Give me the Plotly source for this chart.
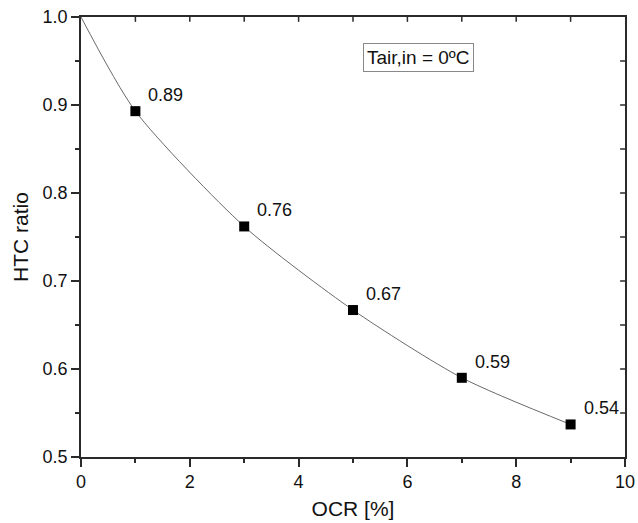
import plotly.graph_objects as go

# data
ocr_line = [0, 1, 3, 5, 7, 9]
htc_line = [1.0, 0.893, 0.762, 0.667, 0.590, 0.537]
ocr_pts = [1, 3, 5, 7, 9]
htc_pts = [0.893, 0.762, 0.667, 0.590, 0.537]
pt_labels = ["0.89", "0.76", "0.67", "0.59", "0.54"]
x_ticks = [0, 2, 4, 6, 8, 10]
y_ticks = [0.5, 0.6, 0.7, 0.8, 0.9, 1.0]
x_minor = [1, 3, 5, 7, 9]
y_minor = [0.55, 0.65, 0.75, 0.85, 0.95]

FONT = "Liberation Sans, Arial, sans-serif"
AX = "#2a2a2a"

fig = go.Figure()
fig.add_trace(go.Scatter(x=ocr_line, y=htc_line, mode="lines",
                         line=dict(color="#6a6a6a", width=1, shape="spline", smoothing=0.7),
                         hoverinfo="skip", showlegend=False))
fig.add_trace(go.Scatter(x=ocr_pts, y=htc_pts, mode="markers",
                         marker=dict(symbol="square", size=10, color="black"),
                         showlegend=False))

for x, y, t in zip(ocr_pts, htc_pts, pt_labels):
    fig.add_annotation(x=x, y=y, text=t, showarrow=False, xanchor="left", yanchor="middle",
                       xshift=11, yshift=16, font=dict(family=FONT, size=18, color="#111"))

fig.add_annotation(xref="paper", yref="paper", x=0.621, y=0.907, text="Tair,in = 0ºC",
                   showarrow=False, xanchor="center", yanchor="middle",
                   font=dict(family=FONT, size=19, color="#111"),
                   bordercolor="#888", borderwidth=1, borderpad=3, bgcolor="white")

# inward ticks on the top and right frame, placed through the axis scales
for v in x_ticks[1:-1] + x_minor:
    fig.add_shape(type="line", xref="x", yref="paper", x0=v, x1=v, y0=1, y1=0.989,
                  line=dict(color=AX, width=1.5), layer="above")
for v in y_ticks[1:-1] + y_minor:
    fig.add_shape(type="line", yref="y", xref="paper", y0=v, y1=v, x0=1, x1=0.991,
                  line=dict(color=AX, width=1.5), layer="above")

fig.update_layout(
    width=638, height=523,
    margin=dict(l=81, r=13, t=17, b=66),
    paper_bgcolor="white", plot_bgcolor="white",
    font=dict(family=FONT, color="#111"),
    xaxis=dict(range=[0, 10], tickmode="array", tickvals=x_ticks, ticktext=[str(v) for v in x_ticks],
               ticks="outside", ticklen=8, tickwidth=1.5, tickcolor=AX,
               showline=True, mirror=True, linecolor=AX, linewidth=1.5, automargin=False,
               showgrid=False, zeroline=False, tickfont=dict(size=18),
               title=dict(text="OCR [%]", font=dict(size=21), standoff=10),
               minor=dict(tickmode="array", tickvals=x_minor, ticks="outside", ticklen=4,
                          tickwidth=1.5, tickcolor=AX, showgrid=False)),
    yaxis=dict(range=[0.5, 1.0], tickmode="array", tickvals=y_ticks, ticktext=[f"{v:.1f}" for v in y_ticks],
               ticks="outside", ticklen=8, tickwidth=1.5, tickcolor=AX,
               showline=True, mirror=True, linecolor=AX, linewidth=1.5, automargin=False,
               showgrid=False, zeroline=False, tickfont=dict(size=18),
               title=dict(text="HTC ratio", font=dict(size=21), standoff=8),
               minor=dict(tickmode="array", tickvals=y_minor, ticks="outside", ticklen=4,
                          tickwidth=1.5, tickcolor=AX, showgrid=False)),
)

fig.write_html("out.html")
